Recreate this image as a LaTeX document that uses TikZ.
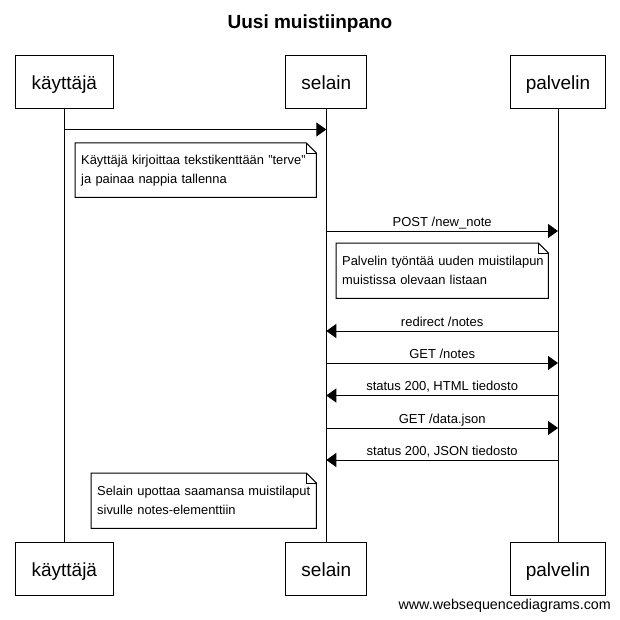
\documentclass[tikz,border=0pt]{standalone}
\usepackage{fontspec}
\setmainfont{Liberation Sans}
\usetikzlibrary{arrows.meta}
\tikzset{
  actor/.style={draw, line width=1pt, inner sep=0pt, minimum height=53pt, text height=16.6pt, text depth=0pt, font=\fontsize{19}{22}\selectfont},
  life/.style={line width=1pt},
  msg/.style={line width=1pt, -{Triangle[length=10pt,width=14pt]}},
  msglabel/.style={midway, anchor=base, yshift=5pt, inner sep=0pt, font=\fontsize{13}{15}\selectfont},
  notetext/.style={anchor=north west, inner xsep=6pt, inner ysep=0pt, align=left, font=\fontsize{12.9}{19}\selectfont},
  noteframe/.style={line width=1pt},
  notefold/.style={line width=0.6pt}
}
\newcommand{\notebox}[1]{%
  \draw[noteframe] (#1.north west) -- ([xshift=-10pt]#1.north east) -- ([yshift=-10pt]#1.north east) -- (#1.south east) -- (#1.south west) -- cycle;
  \draw[notefold] ([xshift=-10pt]#1.north east) -- ([xshift=-10pt,yshift=-10pt]#1.north east) -- ([yshift=-10pt]#1.north east);
}
\begin{document}
\begin{tikzpicture}[x=1pt,y=-1pt]
\useasboundingbox (0,0) rectangle (619,620);
\node[anchor=base, font=\fontsize{19}{22}\selectfont\bfseries] (title) at (310,29) {Uusi muistiinpano};

% actors
\node[actor, minimum width=98pt] (kt) at (64.3,81.7) {käyttäjä};
\node[actor, minimum width=81pt] (se) at (326.3,81.7) {selain};
\node[actor, minimum width=95pt] (pa) at (558,81.7) {palvelin};
\node[actor, minimum width=98pt] (kb) at (64.3,568.5) {käyttäjä};
\node[actor, minimum width=81pt] (sb) at (326.3,568.5) {selain};
\node[actor, minimum width=95pt] (pb) at (558,568.5) {palvelin};

\draw[life] (kt.south) -- (kb.north);
\draw[life] (se.south) -- (sb.north);
\draw[life] (pa.south) -- (pb.north);

% message points
\coordinate (k1) at (64.3,129.5);
\coordinate (s1) at (326.3,129.5);
\coordinate (s2) at (326.3,231);
\coordinate (p2) at (558,231);
\coordinate (p3) at (558,331);
\coordinate (s3) at (326.3,331);
\coordinate (s4) at (326.3,363);
\coordinate (p4) at (558,363);
\coordinate (p5) at (558,395.5);
\coordinate (s5) at (326.3,395.5);
\coordinate (s6) at (326.3,428);
\coordinate (p6) at (558,428);
\coordinate (p7) at (558,460);
\coordinate (s7) at (326.3,460);

\draw[msg] (k1) -- (s1);
\draw[msg] (s2) -- (p2) node[msglabel] (l2) {POST /new\_note};
\draw[msg] (p3) -- (s3) node[msglabel] (l3) {redirect /notes};
\draw[msg] (s4) -- (p4) node[msglabel] (l4) {GET /notes};
\draw[msg] (p5) -- (s5) node[msglabel] (l5) {status 200, HTML tiedosto};
\draw[msg] (s6) -- (p6) node[msglabel] (l6) {GET /data.json};
\draw[msg] (p7) -- (s7) node[msglabel] (l7) {status 200, JSON tiedosto};

% notes
\node[notetext, text width=229pt, minimum height=54pt] (n1) at (75,143) {\mbox{Käyttäjä kirjoittaa tekstikenttään "terve"}\\\mbox{ja painaa nappia tallenna}};
\notebox{n1}
\node[notetext, text width=200pt, minimum height=55pt] (n2) at (336,243) {\mbox{Palvelin työntää uuden muistilapun}\\\mbox{muistissa olevaan listaan}};
\notebox{n2}
\node[notetext, text width=213pt, minimum height=55pt] (n3) at (91,473) {\mbox{Selain upottaa saamansa muistilaput}\\\mbox{sivulle notes-elementtiin}};
\notebox{n3}

\node[anchor=base east, inner sep=0pt, font=\fontsize{14.3}{16}\selectfont] (wsd) at (611,609) {www.websequencediagrams.com};
\end{tikzpicture}
\end{document}
